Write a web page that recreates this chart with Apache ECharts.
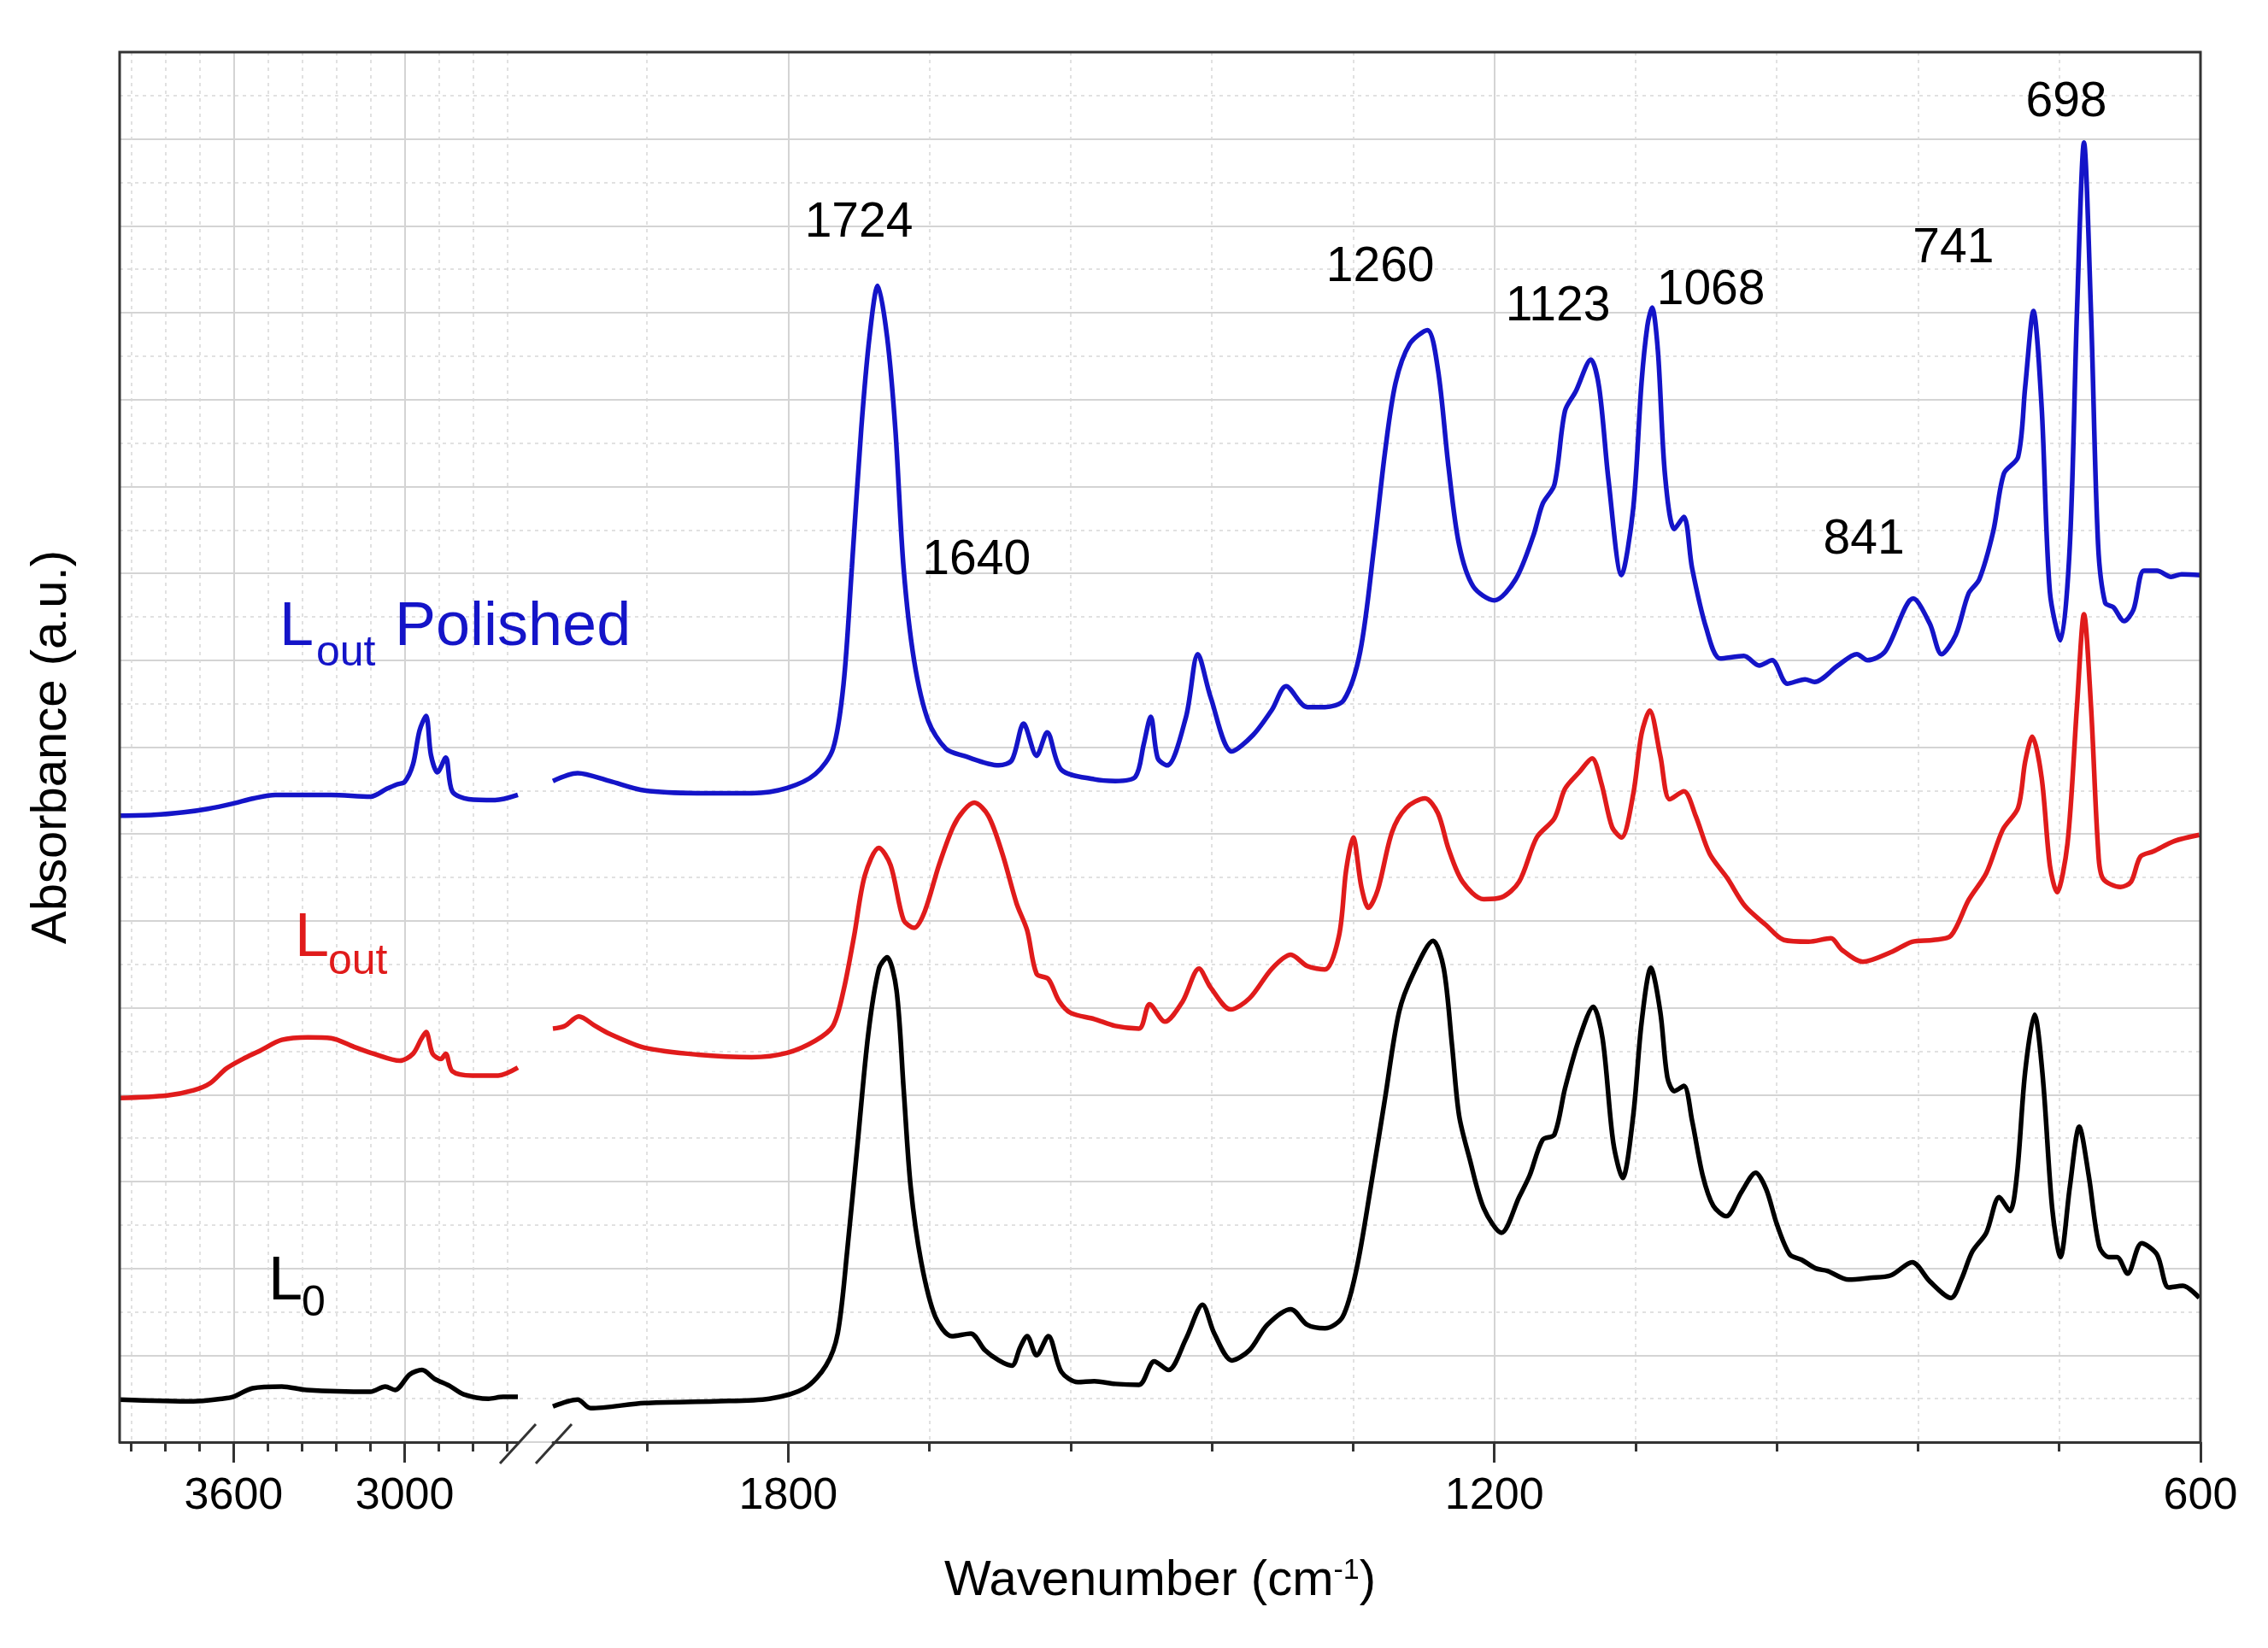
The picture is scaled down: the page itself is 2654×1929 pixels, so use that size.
<!DOCTYPE html>
<html>
<head>
<meta charset="utf-8">
<title>FTIR spectra</title>
<script src="https://cdn.jsdelivr.net/npm/echarts@6/dist/echarts.min.js"></script>
<style>
  html, body { margin: 0; padding: 0; background: #fff; }
  #main { width: 2654px; height: 1929px; }
</style>
</head>
<body>
<div id="main"></div>
<script>
// ---- data (wavenumber cm-1, absorbance offset in a.u.) ----
// each spectrum is split in two: 4000-2600 and 2000-600
var polishedLeft = [[4000,7.21],[3880,7.22],[3775,7.25],[3690,7.29],[3603,7.35],[3530,7.41],[3454,7.45],[3258,7.45],[3120,7.43],[3063,7.52],[3028,7.57],[3000,7.60],[2971,7.80],[2948,8.19],[2925,8.36],[2908,7.91],[2885,7.71],[2856,7.88],[2833,7.49],[2775,7.40],[2683,7.39],[2603,7.45]];
var polishedRight = [[2000,7.61],[1979,7.70],[1952,7.61],[1922,7.50],[1877,7.47],[1831,7.47],[1801,7.53],[1777,7.69],[1762,7.98],[1753,8.73],[1746,10.06],[1738,11.66],[1731,12.72],[1724,13.31],[1716,12.72],[1709,11.66],[1702,10.06],[1693,8.99],[1681,8.30],[1666,7.98],[1651,7.90],[1621,7.79],[1610,7.85],[1600,8.27],[1589,7.90],[1580,8.17],[1568,7.74],[1540,7.63],[1522,7.61],[1505,7.66],[1498,8.03],[1492,8.35],[1486,7.87],[1478,7.79],[1462,8.35],[1452,9.07],[1441,8.57],[1423,7.95],[1405,8.14],[1389,8.43],[1377,8.70],[1359,8.46],[1344,8.46],[1328,8.54],[1314,9.10],[1302,10.33],[1293,11.39],[1284,12.19],[1272,12.64],[1257,12.80],[1248,12.35],[1239,11.23],[1230,10.33],[1218,9.85],[1200,9.69],[1182,9.93],[1167,10.43],[1159,10.80],[1149,11.02],[1140,11.87],[1131,12.09],[1118,12.46],[1111,12.14],[1103,11.07],[1092,9.98],[1082,10.75],[1075,12.19],[1070,12.85],[1066,13.06],[1061,12.55],[1055,11.13],[1047,10.51],[1039,10.65],[1032,10.06],[1020,9.37],[1008,9.02],[988,9.05],[975,8.94],[964,9.00],[951,8.73],[936,8.78],[928,8.75],[908,8.94],[892,9.07],[883,9.00],[868,9.10],[844,9.71],[830,9.42],[820,9.07],[808,9.29],[797,9.77],[788,9.93],[776,10.49],[767,11.15],[755,11.34],[749,12.14],[742,13.02],[735,11.92],[728,9.79],[719,9.23],[711,10.33],[705,12.99],[699,14.96],[693,12.99],[687,10.33],[681,9.66],[674,9.61],[665,9.45],[657,9.58],[648,10.03],[637,10.03],[625,9.96],[616,9.99],[600,9.98]];

var outLeft = [[4000,3.96],[3833,3.99],[3740,4.05],[3683,4.13],[3626,4.30],[3568,4.41],[3511,4.50],[3431,4.63],[3339,4.66],[3258,4.65],[3178,4.55],[3109,4.47],[3017,4.39],[2971,4.47],[2942,4.64],[2925,4.72],[2902,4.47],[2873,4.41],[2856,4.47],[2833,4.27],[2764,4.22],[2672,4.22],[2603,4.31]];
var outRight = [[2000,4.76],[1990,4.79],[1978,4.90],[1964,4.79],[1952,4.70],[1922,4.54],[1877,4.46],[1831,4.43],[1801,4.48],[1777,4.62],[1762,4.79],[1753,5.20],[1744,5.83],[1735,6.52],[1723,6.84],[1713,6.64],[1702,6.01],[1693,5.92],[1684,6.11],[1672,6.64],[1660,7.08],[1651,7.27],[1642,7.36],[1630,7.21],[1618,6.77],[1606,6.20],[1597,5.89],[1589,5.39],[1579,5.33],[1570,5.08],[1560,4.94],[1540,4.87],[1522,4.79],[1502,4.76],[1493,5.04],[1480,4.84],[1465,5.07],[1451,5.45],[1441,5.23],[1424,4.98],[1408,5.11],[1389,5.45],[1373,5.61],[1359,5.48],[1344,5.44],[1332,5.83],[1326,6.58],[1320,6.96],[1313,6.39],[1307,6.15],[1299,6.36],[1287,7.02],[1275,7.30],[1259,7.41],[1248,7.24],[1239,6.83],[1227,6.45],[1209,6.25],[1194,6.27],[1179,6.45],[1164,6.96],[1149,7.18],[1140,7.52],[1128,7.71],[1117,7.87],[1109,7.58],[1100,7.08],[1092,6.96],[1082,7.46],[1075,8.15],[1068,8.42],[1059,7.90],[1051,7.40],[1039,7.49],[1029,7.21],[1017,6.77],[1002,6.49],[987,6.17],[969,5.95],[954,5.78],[933,5.76],[914,5.80],[905,5.67],[887,5.53],[863,5.64],[845,5.76],[827,5.78],[812,5.83],[797,6.24],[782,6.55],[768,7.05],[755,7.30],[749,7.83],[743,8.12],[735,7.65],[728,6.64],[722,6.33],[713,6.89],[705,8.46],[699,9.53],[693,8.46],[687,6.83],[683,6.49],[668,6.39],[659,6.45],[651,6.74],[640,6.80],[622,6.92],[601,6.99]];

var zeroLeft = [[4000,0.49],[3741,0.47],[3640,0.50],[3603,0.52],[3534,0.62],[3431,0.64],[3344,0.60],[3120,0.58],[3068,0.64],[3034,0.60],[2982,0.78],[2939,0.83],[2896,0.73],[2844,0.65],[2793,0.55],[2706,0.50],[2655,0.52],[2603,0.52]];
var zeroRight = [[2000,0.41],[1979,0.49],[1968,0.39],[1922,0.45],[1862,0.47],[1816,0.50],[1786,0.62],[1768,0.88],[1758,1.25],[1750,2.19],[1741,3.45],[1732,4.70],[1723,5.45],[1716,5.58],[1708,5.20],[1702,4.07],[1696,2.94],[1687,2.07],[1675,1.44],[1661,1.22],[1645,1.25],[1633,1.06],[1621,0.94],[1610,0.88],[1603,1.09],[1597,1.22],[1589,1.00],[1579,1.22],[1568,0.81],[1554,0.69],[1540,0.70],[1522,0.67],[1502,0.66],[1489,0.93],[1477,0.83],[1462,1.19],[1448,1.58],[1438,1.25],[1423,0.94],[1408,1.06],[1393,1.35],[1373,1.53],[1359,1.35],[1344,1.31],[1329,1.44],[1317,2.00],[1305,2.94],[1293,3.95],[1281,4.95],[1269,5.39],[1252,5.77],[1243,5.45],[1236,4.57],[1230,3.76],[1221,3.26],[1209,2.69],[1194,2.41],[1179,2.82],[1170,3.07],[1159,3.48],[1149,3.54],[1140,4.07],[1128,4.64],[1116,5.01],[1108,4.64],[1099,3.45],[1091,3.04],[1082,3.76],[1075,4.82],[1067,5.46],[1059,4.95],[1053,4.20],[1047,4.04],[1039,4.10],[1032,3.70],[1023,3.07],[1014,2.72],[1003,2.60],[990,2.88],[978,3.10],[969,2.91],[960,2.51],[949,2.16],[939,2.10],[927,2.00],[917,1.97],[899,1.87],[881,1.89],[863,1.92],[845,2.07],[830,1.85],[812,1.66],[803,1.88],[794,2.19],[782,2.41],[771,2.82],[762,2.66],[756,3.07],[749,4.26],[741,4.92],[734,4.20],[726,2.69],[719,2.13],[711,2.94],[703,3.63],[695,3.07],[686,2.25],[678,2.13],[671,2.13],[662,1.94],[650,2.29],[637,2.16],[627,1.78],[615,1.80],[601,1.66]];

// peak annotations (text, label position in wavenumber / a.u.)
var peakNames = ['1724', '1640', '1260', '1123', '1068', '841', '741', '698'];
var peakLabelX = [1740, 1640, 1297, 1146, 1016, 886, 810, 714];
var peakLabelY = [14.03, 10.15, 13.52, 13.07, 13.25, 10.38, 13.74, 15.42];

// axis ticks
var leftMajorTicks = [3600, 3000];
var leftMinorTicks = [3960, 3840, 3720, 3480, 3360, 3240, 3120, 2880, 2760, 2640];
var rightMajorTicks = [1800, 1200, 600];
var rightMinorTicks = [1920, 1680, 1560, 1440, 1320, 1080, 960, 840, 720];

// ---- layout ----
var FONT = '"Liberation Sans", Arial, Helvetica, sans-serif';
var plotLeft = 140, plotTop = 61, plotRight = 2575, plotBottom = 1688;
var leftEnd = 607, rightStart = 647;
var plotHeight = plotBottom - plotTop;

var BLUE = '#1414c8', RED = '#e01b1b', BLACK = '#000000';
var AXIS = '#333333';
var TEXT = '#000000';

var myChart = echarts.init(document.getElementById('main'));

function majorAxis(gridIndex, min, max, ticks) {
    return {
        gridIndex: gridIndex, type: 'value', min: min, max: max, inverse: true, position: 'bottom',
        axisLine: { show: true, onZero: false, lineStyle: { color: AXIS, width: 3 } },
        axisTick: { show: true, length: 24, customValues: ticks, lineStyle: { color: AXIS, width: 3 } },
        axisLabel: { show: true, customValues: ticks, margin: 38, fontSize: 52, color: TEXT, fontFamily: FONT,
                     showMinLabel: true, showMaxLabel: true,
                     formatter: function (v) { return String(v); } },
        splitLine: { show: true, lineStyle: { color: '#d4d4d4', width: 2 } }
    };
}
function minorAxis(gridIndex, min, max, ticks) {
    return {
        gridIndex: gridIndex, type: 'value', min: min, max: max, inverse: true, position: 'bottom',
        axisLine: { show: false, onZero: false },
        axisTick: { show: true, length: 11, customValues: ticks, lineStyle: { color: AXIS, width: 3 } },
        axisLabel: { show: false },
        splitLine: { show: true, lineStyle: { color: '#d8d8d8', width: 1.5, type: [4, 5] } }
    };
}
function hiddenY(gridIndex) {
    return { gridIndex: gridIndex, type: 'value', min: 0, max: 16, show: false };
}
function spectrum(name, color, data, seg) {
    return {
        name: name, type: 'line', data: data,
        xAxisIndex: seg === 0 ? 0 : 2, yAxisIndex: seg,
        symbol: 'none', smooth: 0.3, silent: true, z: 3,
        lineStyle: { color: color, width: 5.5 }
    };
}

var option = {
    animation: false,
    backgroundColor: '#fff',
    grid: [
        { left: plotLeft, top: plotTop, width: leftEnd - plotLeft, height: plotHeight },
        { left: rightStart, top: plotTop, width: plotRight - rightStart, height: plotHeight },
        { left: plotLeft, top: plotTop, width: plotRight - plotLeft, height: plotHeight }
    ],
    xAxis: [
        majorAxis(0, 2600, 4000, leftMajorTicks),
        minorAxis(0, 2600, 4000, leftMinorTicks),
        majorAxis(1, 600, 2000, rightMajorTicks),
        minorAxis(1, 600, 2000, rightMinorTicks),
        {
            gridIndex: 2, type: 'value', min: 0, max: 1, position: 'bottom',
            axisLine: { show: false }, axisTick: { show: false }, axisLabel: { show: false }, splitLine: { show: false },
            name: 'Wavenumber (cm{sup|-1})', nameLocation: 'middle', nameGap: 134,
            nameTextStyle: { fontSize: 58, color: TEXT, fontFamily: FONT,
                rich: { sup: { fontSize: 34, color: TEXT, fontFamily: FONT, verticalAlign: 'top' } } }
        }
    ],
    yAxis: [
        hiddenY(0),
        hiddenY(1),
        {
            gridIndex: 2, type: 'value', min: 0, max: 16, interval: 1,
            axisLine: { show: false }, axisTick: { show: false }, axisLabel: { show: false },
            splitLine: { show: true, lineStyle: { color: '#d4d4d4', width: 2 } },
            minorTick: { show: false, splitNumber: 2 },
            minorSplitLine: { show: true, lineStyle: { color: '#d8d8d8', width: 1.5, type: [4, 5] } },
            name: 'Absorbance (a.u.)', nameLocation: 'middle', nameGap: 50,
            nameTextStyle: { fontSize: 58, color: TEXT, fontFamily: FONT }
        }
    ],
    series: [
        spectrum('L0', BLACK, zeroLeft, 0),
        spectrum('L0', BLACK, zeroRight, 1),
        spectrum('Lout', RED, outLeft, 0),
        spectrum('Lout', RED, outRight, 1),
        spectrum('Lout Polished', BLUE, polishedLeft, 0),
        spectrum('Lout Polished', BLUE, polishedRight, 1),
        {
            type: 'scatter', xAxisIndex: 2, yAxisIndex: 1, silent: true, z: 4,
            symbolSize: 0, itemStyle: { color: '#000', opacity: 1 },
            data: peakNames.map(function (n, i) { return { name: n, value: [peakLabelX[i], peakLabelY[i]] }; }),
            label: { show: true, position: 'inside', formatter: '{b}', fontSize: 57, color: '#000', opacity: 1,
                     fontFamily: FONT, textBorderWidth: 0 }
        }
    ],
    graphic: [
        // frame (bottom is drawn by the two x axes, with the break)
        { type: 'polyline', z: 10, silent: true,
          shape: { points: [[plotLeft, plotBottom], [plotLeft, plotTop], [plotRight, plotTop], [plotRight, plotBottom]] },
          style: { stroke: AXIS, lineWidth: 3, fill: null } },
        // axis break marks
        { type: 'line', z: 10, silent: true,
          shape: { x1: leftEnd - 22, y1: plotBottom + 25, x2: leftEnd + 20, y2: plotBottom - 21 },
          style: { stroke: AXIS, lineWidth: 3 } },
        { type: 'line', z: 10, silent: true,
          shape: { x1: rightStart - 20, y1: plotBottom + 25, x2: rightStart + 22, y2: plotBottom - 21 },
          style: { stroke: AXIS, lineWidth: 3 } },
        // series names
        { type: 'text', z: 10, left: 327, top: 735 - 36, style: { text: 'L', fontSize: 72, fontFamily: FONT, fill: BLUE } },
        { type: 'text', z: 10, left: 370, top: 765 - 25, style: { text: 'out', fontSize: 50, fontFamily: FONT, fill: BLUE } },
        { type: 'text', z: 10, left: 462, top: 735 - 36, style: { text: 'Polished', fontSize: 72, fontFamily: FONT, fill: BLUE } },
        { type: 'text', z: 10, left: 345, top: 1099 - 36, style: { text: 'L', fontSize: 72, fontFamily: FONT, fill: RED } },
        { type: 'text', z: 10, left: 384, top: 1126 - 25, style: { text: 'out', fontSize: 50, fontFamily: FONT, fill: RED } },
        { type: 'text', z: 10, left: 314, top: 1501 - 36, style: { text: 'L', fontSize: 72, fontFamily: FONT, fill: BLACK } },
        { type: 'text', z: 10, left: 353, top: 1526 - 25, style: { text: '0', fontSize: 50, fontFamily: FONT, fill: BLACK } }
    ]
};

myChart.setOption(option);
</script>
</body>
</html>
